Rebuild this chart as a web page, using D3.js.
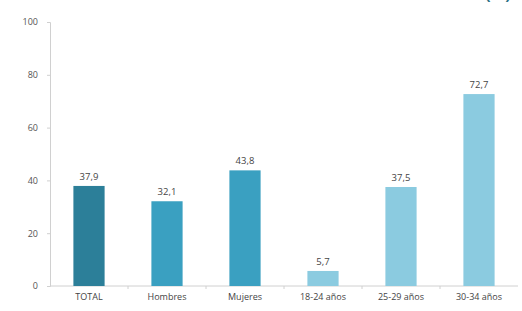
<!DOCTYPE html>
<html>
<head>
<meta charset="utf-8">
<script src="https://cdn.jsdelivr.net/npm/d3@7"></script>
<style>
  body { margin: 0; background: #fff; }
  svg text { font-family: "Open Sans", "DejaVu Sans", sans-serif; }
</style>
</head>
<body>
<div class="areaGrafica"></div>
<script>
const categorias = ['TOTAL', 'Hombres', 'Mujeres', '18-24 años', '25-29 años', '30-34 años'];
const valores = [37.9, 32.1, 43.8, 5.7, 37.5, 72.7];
const etiquetas = ['37,9', '32,1', '43,8', '5,7', '37,5', '72,7'];
const colores = ['#2c7f99', '#3aa0c1', '#3aa0c1', '#8bcbe0', '#8bcbe0', '#8bcbe0'];
const ticksY = [0, 20, 40, 60, 80, 100];

const w = 522;
const h = 311;

let svg = d3.select('.areaGrafica')
            .append('svg')
            .attr('width', w)
            .attr('height', h)

let xScale = d3.scaleBand()
               .domain(categorias)
               .range([50, 518])
               .paddingInner(0.6)
               .paddingOuter(0.3)

let yScale = d3.scaleLinear()
               .domain([0, 100])
               .range([286, 22])

// title, cut off at the top as in the original
svg.append('text')
   .attr('x', 498)
   .attr('y', 0)
   .attr('text-anchor', 'middle')
   .attr('font-size', 16)
   .attr('font-weight', 'bold')
   .attr('fill', '#2a7186')
   .text('(%)')

// y axis
let yAxis = d3.axisLeft(yScale)
              .tickValues(ticksY)
              .tickSize(3)
              .tickPadding(9)

let ejeY = svg.append('g')
    .attr('transform', 'translate(50, 0)')
    .call(yAxis)
ejeY.select('.domain').attr('stroke', '#d0d0d0')
ejeY.selectAll('.tick line').attr('stroke', '#d0d0d0')
ejeY.selectAll('.tick text').attr('font-size', 9).attr('fill', '#555')

// x axis baseline with ticks between categories
svg.append('line')
   .attr('x1', 50).attr('x2', 518)
   .attr('y1', yScale(0)).attr('y2', yScale(0))
   .attr('stroke', '#d0d0d0')

let hueco = (xScale.step() - xScale.bandwidth()) / 2
svg.selectAll('.sep')
   .data(categorias.slice(1))
   .enter()
   .append('line')
   .attr('x1', (d) => xScale(d) - hueco)
   .attr('x2', (d) => xScale(d) - hueco)
   .attr('y1', yScale(0)).attr('y2', yScale(0) + 3)
   .attr('stroke', '#d0d0d0')

// bars
svg.selectAll('rect')
   .data(valores)
   .enter()
   .append('rect')
   .attr('x', (d, i) => xScale(categorias[i]))
   .attr('y', (d) => yScale(d))
   .attr('width', xScale.bandwidth())
   .attr('height', (d) => yScale(0) - yScale(d))
   .attr('fill', (d, i) => colores[i])

// value labels
svg.selectAll('.valor')
   .data(valores)
   .enter()
   .append('text')
   .attr('x', (d, i) => xScale(categorias[i]) + xScale.bandwidth() / 2)
   .attr('y', (d) => yScale(d) - 6)
   .attr('text-anchor', 'middle')
   .attr('font-size', 9.5)
   .attr('fill', '#444')
   .text((d, i) => etiquetas[i])

// category labels
svg.selectAll('.cat')
   .data(categorias)
   .enter()
   .append('text')
   .attr('x', (d) => xScale(d) + xScale.bandwidth() / 2)
   .attr('y', 300)
   .attr('text-anchor', 'middle')
   .attr('font-size', 9)
   .attr('fill', '#444')
   .text((d) => d)
</script>
</body>
</html>
